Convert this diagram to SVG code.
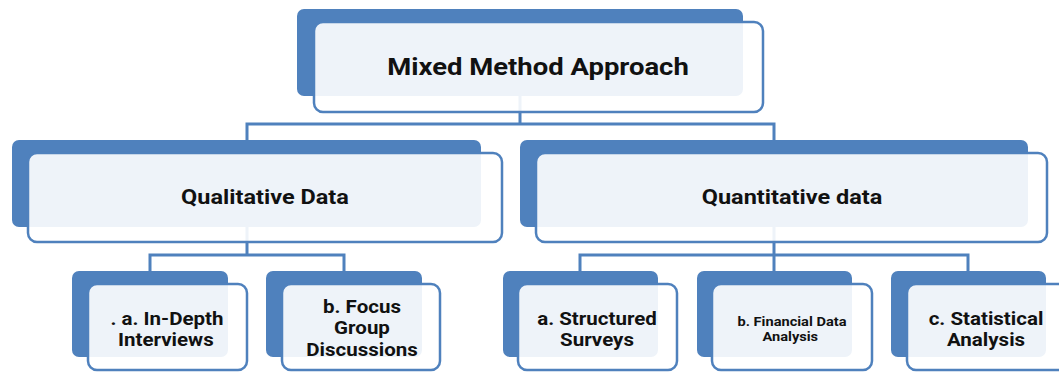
<svg xmlns="http://www.w3.org/2000/svg" width="1059" height="372" viewBox="0 0 1059 372">
  <style>
    .back { fill: #4f81bd; }
    .front { fill: #ffffff; fill-opacity: 0.9; stroke: #4f81bd; stroke-width: 2.5; }
    .link { fill: none; stroke: #4f81bd; stroke-width: 3; }
    text { font-family: Roboto, "Open Sans", "Liberation Sans", sans-serif; font-weight: bold; fill: #111111; text-anchor: middle; }
    .t1 { font-size: 24.5px; }
    .t2 { font-size: 21px; }
    .t3 { font-size: 18px; }
    .t4 { font-size: 12.6px; }
  </style>
  <rect width="1059" height="372" fill="#ffffff"/>

  <!-- tree connectors -->
  <g id="connectors">
    <path class="link" d="M520,90 V124"/>
    <path class="link" d="M247,140 V124 H774 V140"/>
    <path class="link" d="M247,220 V255"/>
    <path class="link" d="M150,271 V255 H344 V271"/>
    <path class="link" d="M774,220 V271"/>
    <path class="link" d="M580,271 V255 H968 V271"/>
  </g>

  <!-- root -->
  <g id="mixed-method">
    <rect class="back" x="297" y="9" width="446" height="87" rx="7"/>
    <rect class="front" x="314" y="22" width="449" height="90" rx="9"/>
    <text class="t1" transform="translate(538,0) scale(1.12,1)" x="0" y="75">Mixed Method Approach</text>
  </g>

  <!-- second level -->
  <g id="qualitative">
    <rect class="back" x="12" y="140" width="469" height="87" rx="7"/>
    <rect class="front" x="28" y="153" width="474" height="89" rx="9"/>
    <text class="t2" transform="translate(265,0) scale(1.12,1)" x="0" y="204">Qualitative Data</text>
  </g>
  <g id="quantitative">
    <rect class="back" x="520" y="140" width="508" height="87" rx="7"/>
    <rect class="front" x="536" y="153" width="511" height="89" rx="9"/>
    <text class="t2" transform="translate(792,0) scale(1.12,1)" x="0" y="204">Quantitative data</text>
  </g>

  <!-- leaves: each label is one text block, lines as tspans -->
  <g id="in-depth-interviews">
    <rect class="back" x="72" y="271" width="156" height="86" rx="7"/>
    <rect class="front" x="88" y="284" width="159" height="86" rx="9"/>
    <text class="t3" transform="translate(167,0) scale(1.14,1)"><tspan x="0" y="325">. a. In-Depth</tspan><tspan x="-1" y="346.4">Interviews</tspan></text>
  </g>
  <g id="focus-group">
    <rect class="back" x="266" y="271" width="156" height="86" rx="7"/>
    <rect class="front" x="282" y="284" width="158" height="86" rx="9"/>
    <text class="t3" transform="translate(362,0) scale(1.14,1)"><tspan x="0" y="313">b. Focus</tspan><tspan x="0" y="334.5">Group</tspan><tspan x="0" y="356">Discussions</tspan></text>
  </g>
  <g id="structured-surveys">
    <rect class="back" x="503" y="271" width="155" height="86" rx="7"/>
    <rect class="front" x="518" y="284" width="159" height="86" rx="9"/>
    <text class="t3" transform="translate(597,0) scale(1.14,1)"><tspan x="0" y="325">a. Structured</tspan><tspan x="0" y="346.4">Surveys</tspan></text>
  </g>
  <g id="financial-data">
    <rect class="back" x="697" y="271" width="155" height="86" rx="7"/>
    <rect class="front" x="712" y="284" width="160" height="86" rx="9"/>
    <text class="t4" transform="translate(792,0) scale(1.16,1)"><tspan x="0" y="326">b. Financial Data</tspan><tspan x="-1.5" y="341">Analysis</tspan></text>
  </g>
  <g id="statistical-analysis">
    <rect class="back" x="891" y="271" width="155" height="86" rx="7"/>
    <rect class="front" x="907" y="284" width="160" height="86" rx="9"/>
    <text class="t3" transform="translate(986,0) scale(1.14,1)"><tspan x="0" y="325">c. Statistical</tspan><tspan x="0" y="346.4">Analysis</tspan></text>
  </g>
</svg>
